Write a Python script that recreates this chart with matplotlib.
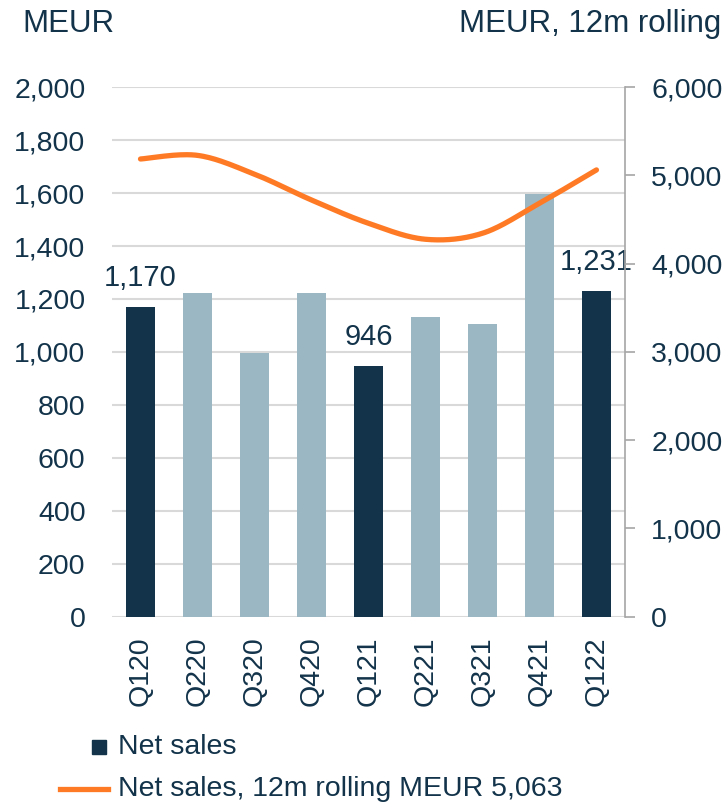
import matplotlib.pyplot as plt
import numpy as np
from matplotlib.lines import Line2D
from matplotlib.patches import Rectangle

plt.rcParams['font.family'] = ['Liberation Sans', 'DejaVu Sans']

# data
quarters = ['Q120', 'Q220', 'Q320', 'Q420', 'Q121', 'Q221', 'Q321', 'Q421', 'Q122']
net_sales = [1170, 1223, 996, 1223, 946, 1132, 1106, 1598, 1231]
rolling_12m = [5187, 5228, 5015, 4722, 4458, 4277, 4345, 4685, 5063]
highlight = [True, False, False, False, True, False, False, False, True]
labelled = {0: '1,170', 4: '946', 8: '1,231'}

navy = '#12334A'
light = '#9BB7C3'
orange = '#FF7A25'
grid_col = '#D9D9D9'


def smooth(y, n=30):
    # Catmull-Rom curve through the points, like Excel's smoothed line
    pts = np.column_stack([np.arange(len(y)), y]).astype(float)
    p = np.vstack([pts[0], pts, pts[-1]])
    out = []
    for i in range(1, len(p) - 2):
        p0, p1, p2, p3 = p[i - 1], p[i], p[i + 1], p[i + 2]
        t = np.linspace(0, 1, n)[:, None]
        seg = 0.5 * ((2 * p1) + (-p0 + p2) * t + (2 * p0 - 5 * p1 + 4 * p2 - p3) * t ** 2
                     + (-p0 + 3 * p1 - 3 * p2 + p3) * t ** 3)
        out.append(seg)
    c = np.vstack(out)
    return c[:, 0], c[:, 1]


fig = plt.figure(figsize=(7.25, 8.08), dpi=100)
ax = fig.add_axes([0.1545, 0.2369, 0.862 - 0.1545, 0.892 - 0.2369])
ax2 = ax.twinx()

x = np.arange(len(quarters))
colors = [navy if h else light for h in highlight]
ax.bar(x, net_sales, width=0.51, color=colors, zorder=2)

for i, txt in labelled.items():
    ax.annotate(txt, (x[i], net_sales[i]), xytext=(0, 21), textcoords='offset points',
                ha='center', va='center', fontsize=21, color=navy, zorder=5)

ax.set_xlim(-0.5, len(quarters) - 0.5)
ax.set_ylim(0, 2000)
ax.set_yticks(range(0, 2001, 200))
ax.set_yticklabels([f'{v:,}' for v in range(0, 2001, 200)])
ax.yaxis.grid(True, color=grid_col, linewidth=1.5, zorder=0)
ax.set_axisbelow(True)
ax.tick_params(axis='y', length=0, pad=19, labelsize=20.5, labelcolor=navy)
ax.set_xticks(x)
ax.set_xticklabels(quarters, rotation=90)
ax.tick_params(axis='x', length=0, pad=14, labelsize=20.5, labelcolor=navy)
for s in ax.spines.values():
    s.set_visible(False)

xs, ys = smooth(rolling_12m)
ax2.plot(xs, ys, color=orange, linewidth=3.8, solid_capstyle='round', zorder=3)
ax2.set_ylim(0, 6000)
ax2.set_yticks(range(0, 6001, 1000))
ax2.set_yticklabels([f'{v:,}' for v in range(0, 6001, 1000)])
ax2.tick_params(axis='y', length=7, width=1.2, color='#A6A6A6', pad=12,
                labelsize=20.5, labelcolor=navy)
for name, s in ax2.spines.items():
    s.set_visible(name == 'right')
ax2.spines['right'].set_color('#A6A6A6')
ax2.spines['right'].set_linewidth(1.2)

fig.text(22 / 725, 1 - 24 / 808, 'MEUR', fontsize=22.5, color=navy, va='center', ha='left')
fig.text(721 / 725, 1 - 24 / 808, 'MEUR, 12m rolling', fontsize=22.5, color=navy,
         va='center', ha='right')

# legend
fig.add_artist(Rectangle((92 / 725, 1 - 754 / 808), 14 / 725, 14 / 808,
                         transform=fig.transFigure, color=navy))
fig.text(118 / 725, 1 - 747 / 808, 'Net sales', fontsize=20.5, color=navy, va='center')
fig.add_artist(Line2D([60 / 725, 108 / 725], [1 - 789 / 808, 1 - 789 / 808],
                      transform=fig.transFigure, color=orange, linewidth=3.8))
fig.text(118 / 725, 1 - 789 / 808, 'Net sales, 12m rolling MEUR 5,063', fontsize=20.5,
         color=navy, va='center')

fig.savefig('out.png', dpi=100)
